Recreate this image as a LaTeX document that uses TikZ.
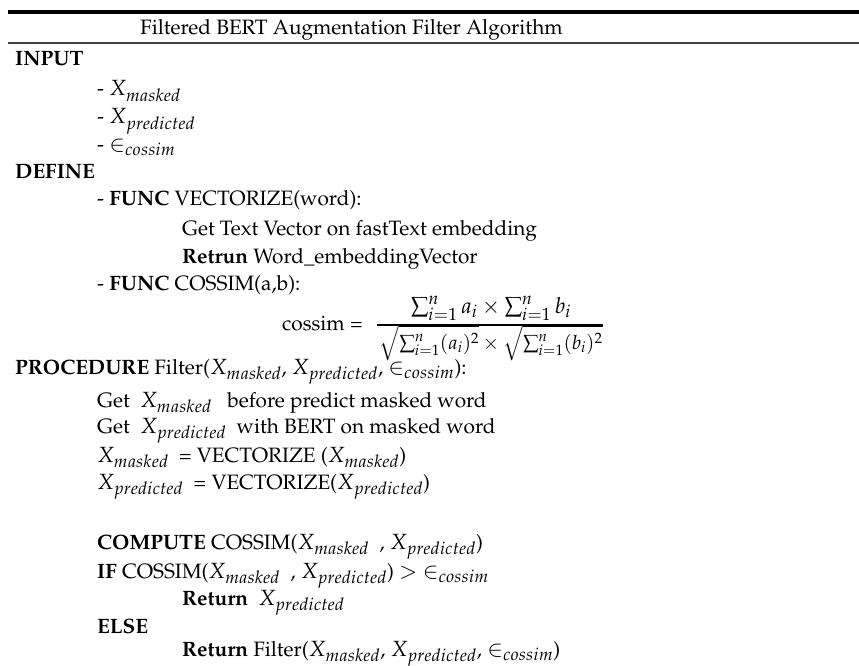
\documentclass[tikz,border=0pt]{standalone}
\usepackage[T1]{fontenc}
\usepackage{mathpazo}
\DeclareMathSizes{20.8}{22}{17.5}{13}
\DeclareMathSizes{19}{19.5}{15}{11}
\begin{document}
\begin{tikzpicture}[x=1pt,y=-1pt,
  txt/.style={anchor=base west, inner sep=0pt, font=\fontsize{20.8}{25}\selectfont},
  mathc/.style={anchor=base, inner sep=0pt, font=\fontsize{20.8}{25}\selectfont},
  mathd/.style={anchor=base, inner sep=0pt, font=\fontsize{19}{23}\selectfont},
  thickrule/.style={line width=4pt, black},
  thinrule/.style={line width=1.5pt, black!75},
  fracbar/.style={line width=1.1pt, black}]
\useasboundingbox (0,0) rectangle (859,666);
\coordinate (r1a) at (8,12); \coordinate (r1b) at (859,12);
\coordinate (r2a) at (8,43); \coordinate (r2b) at (859,43);
\draw[thickrule] (r1a) -- (r1b);
\draw[thinrule] (r2a) -- (r2b);
\node[txt] (title) at (140,35) {Filtered BERT Augmentation Filter Algorithm};
\node[txt] (input) at (15,66) {\textbf{INPUT}};
\node[txt] (in1) at (97,96) {- $X_{masked}$};
\node[txt] (in2) at (97,124) {- $X_{predicted}$};
\node[txt] (in3) at (97,151) {- ${\in}_{cossim}$};
\node[txt] (define) at (15,178) {\textbf{DEFINE}};
\node[txt] (f1) at (97,205) {- \textbf{FUNC} VECTORIZE(word):};
\node[txt] (f1a) at (182,235) {Get Text Vector on fastText embedding};
\node[txt] (f1b) at (182,263) {\textbf{Retrun} Word\_embeddingVector};
\node[txt] (f2) at (97,290) {- \textbf{FUNC} COSSIM(a,b):};
\node[txt] (cs) at (282,330) {cossim =};
\node[mathc] (num) at (491,313) {$\sum_{i=1}^{n} a_i \times \sum_{i=1}^{n} b_i$};
\node[mathd] (den) at (491,349) {$\sqrt{\sum_{i=1}^{n}(a_i)^2}\times\sqrt{\sum_{i=1}^{n}(b_i)^2}$};
\coordinate (fb1) at (377,325); \coordinate (fb2) at (603,325);
\draw[fracbar] (fb1) -- (fb2);
\node[txt] (proc) at (15,374) {\textbf{PROCEDURE} Filter($X_{masked}$, $X_{predicted}$, ${\in}_{cossim}$):};
\node[txt] (p1) at (97,407) {Get \ $X_{masked}$ \ \ before predict masked word};
\node[txt] (p2) at (97,433) {Get \ $X_{predicted}$ \ with BERT on masked word};
\node[txt] (p3) at (97,462) {$X_{masked}$ \ = VECTORIZE ($X_{masked}$)};
\node[txt] (p4) at (97,489) {$X_{predicted}$ \ = VECTORIZE($X_{predicted}$)};
\node[txt] (p5) at (97,549) {\textbf{COMPUTE} COSSIM($X_{masked}$ \ , $X_{predicted}$)};
\node[txt] (p6) at (97,578) {\textbf{IF} COSSIM($X_{masked}$ \ , $X_{predicted}$) $>$ ${\in}_{cossim}$};
\node[txt] (p7) at (182,605) {\textbf{Return} \ $X_{predicted}$};
\node[txt] (p8) at (97,633) {\textbf{ELSE}};
\node[txt] (p9) at (182,656) {\textbf{Return} Filter($X_{masked}$, $X_{predicted}$, ${\in}_{cossim}$)};
\end{tikzpicture}
\end{document}
